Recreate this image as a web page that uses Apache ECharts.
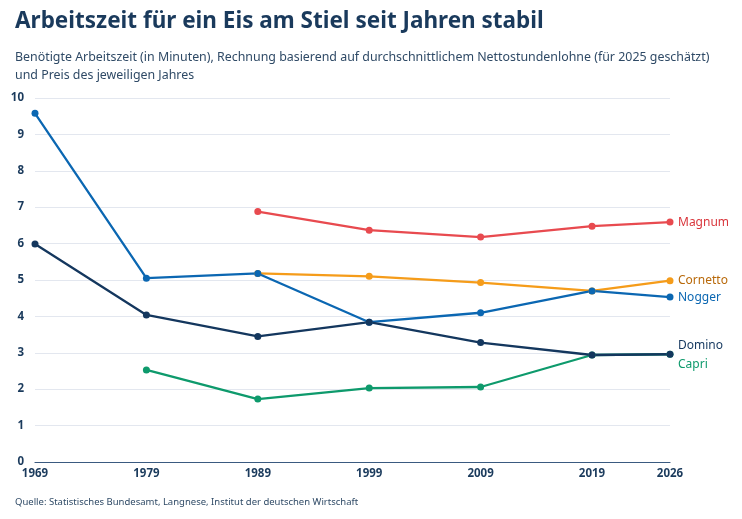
<!DOCTYPE html>
<html>
<head>
<meta charset="utf-8">
<script src="https://cdn.jsdelivr.net/npm/echarts@6/dist/echarts.min.js"></script>
<style>
  html, body { margin: 0; padding: 0; background: #fff; }
  #chart { width: 742px; height: 519px; }
</style>
</head>
<body>
<div id="chart"></div>
<script>
var years = [1969, 1979, 1989, 1999, 2009, 2019, 2026];
var nogger = [9.58, 5.05, 5.18, 3.84, 4.1, 4.7, 4.53];
var domino = [5.99, 4.04, 3.45, 3.84, 3.28, 2.94, 2.96];
var magnum = [null, null, 6.88, 6.37, 6.18, 6.48, 6.59];
var cornetto = [null, null, 5.18, 5.1, 4.93, 4.7, 4.98];
var capri = [null, 2.53, 1.73, 2.03, 2.06, 2.94, 2.96];

var navy = '#1a3a5c';
var font = '"Noto Sans", sans-serif';

function pairs(vals) {
    var out = [];
    for (var i = 0; i < years.length; i++) {
        if (vals[i] !== null) out.push([years[i], vals[i]]);
    }
    return out;
}

function makeSeries(name, vals, color, labelColor, dy) {
    return {
        name: name,
        type: 'line',
        data: pairs(vals),
        symbol: 'circle',
        symbolSize: 7,
        itemStyle: {color: color},
        lineStyle: {color: color, width: 2.3},
        emphasis: {disabled: true},
        endLabel: {
            show: true,
            formatter: name,
            color: labelColor,
            fontFamily: font,
            fontSize: 12,
            distance: 8,
            offset: [0, dy]
        }
    };
}

var chart = echarts.init(document.getElementById('chart'));
var option = {
    animation: false,
    title: [
        {
            text: 'Arbeitszeit für ein Eis am Stiel seit Jahren stabil',
            left: 10,
            top: 5,
            textStyle: {fontFamily: font, fontSize: 22.5, fontWeight: 'bold', color: navy}
        },
        {
            text: 'Benötigte Arbeitszeit (in Minuten), Rechnung basierend auf durchschnittlichem Nettostundenlohne (für 2025 geschätzt)\nund Preis des jeweiligen Jahres',
            left: 10,
            top: 43,
            textStyle: {fontFamily: font, fontSize: 12.4, fontWeight: 'normal', color: '#2f4a66', lineHeight: 18}
        },
        {
            text: 'Quelle: Statistisches Bundesamt, Langnese, Institut der deutschen Wirtschaft',
            left: 10,
            top: 492,
            textStyle: {fontFamily: font, fontSize: 9.5, fontWeight: 'normal', color: '#2f4a66'}
        }
    ],
    grid: {left: 35, right: 72, top: 98, bottom: 57},
    xAxis: {
        type: 'value',
        min: 1969,
        max: 2026,
        interval: 10,
        axisLine: {show: true, lineStyle: {color: '#3a5a80', width: 1.2}},
        axisTick: {show: false},
        splitLine: {show: false},
        axisLabel: {
            color: navy, fontFamily: font, fontSize: 11.5, fontWeight: 'bold', margin: 6,
            showMinLabel: true, showMaxLabel: true,
            formatter: function (v) { return String(v); }
        }
    },
    yAxis: {
        type: 'value',
        min: 0,
        max: 10,
        interval: 1,
        axisLine: {show: false},
        axisTick: {show: false},
        splitLine: {lineStyle: {color: '#e3e7ef', width: 1.2}},
        axisLabel: {color: navy, fontFamily: font, fontSize: 11.5, fontWeight: 'bold', margin: 11}
    },
    series: [
        makeSeries('Magnum', magnum, '#e84a4f', '#d9363c', 0),
        makeSeries('Cornetto', cornetto, '#f59c1a', '#b8690a', 0),
        makeSeries('Nogger', nogger, '#0b67b2', '#0b67b2', 0),
        makeSeries('Capri', capri, '#0e9a6c', '#0e9a6c', 10),
        makeSeries('Domino', domino, '#14375e', '#14375e', -9)
    ]
};
chart.setOption(option);
</script>
</body>
</html>
